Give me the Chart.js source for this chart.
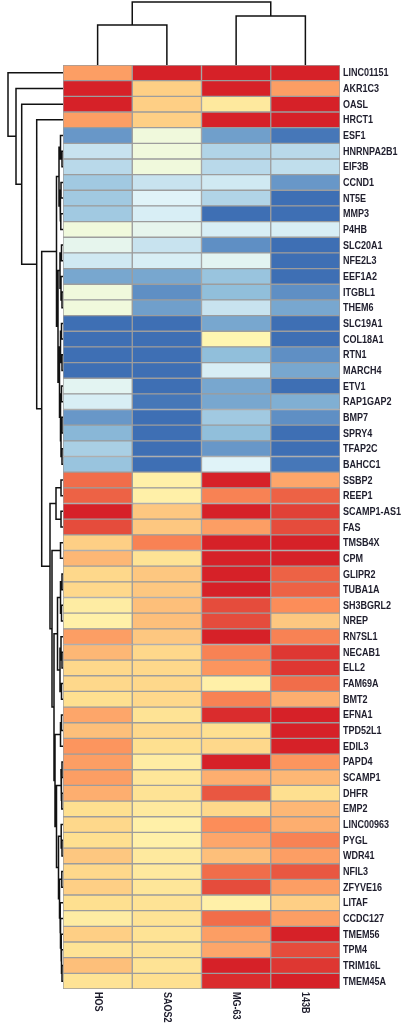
<!DOCTYPE html>
<html>
<head>
<meta charset="utf-8">
<script src="https://cdn.jsdelivr.net/npm/chart.js@4"></script>
<style>
  html, body { margin: 0; padding: 0; background: #fff; }
  #wrap { position: relative; width: 403px; height: 1032px; overflow: hidden; }
  #wrap canvas { position: absolute; left: 0; top: 0; }
</style>
</head>
<body>
<div id="wrap">
  <canvas id="heat" width="403" height="1032"></canvas>
  <canvas id="rowDendro" width="64" height="1032"></canvas>
  <canvas id="colDendro" width="403" height="66"></canvas>
</div>
<script>
const genes = ['LINC01151', 'AKR1C3', 'OASL', 'HRCT1', 'ESF1', 'HNRNPA2B1', 'EIF3B', 'CCND1', 'NT5E', 'MMP3',
  'P4HB', 'SLC20A1', 'NFE2L3', 'EEF1A2', 'ITGBL1', 'THEM6', 'SLC19A1', 'COL18A1', 'RTN1', 'MARCH4',
  'ETV1', 'RAP1GAP2', 'BMP7', 'SPRY4', 'TFAP2C', 'BAHCC1', 'SSBP2', 'REEP1', 'SCAMP1-AS1', 'FAS',
  'TMSB4X', 'CPM', 'GLIPR2', 'TUBA1A', 'SH3BGRL2', 'NREP', 'RN7SL1', 'NECAB1', 'ELL2', 'FAM69A',
  'BMT2', 'EFNA1', 'TPD52L1', 'EDIL3', 'PAPD4', 'SCAMP1', 'DHFR', 'EMP2', 'LINC00963', 'PYGL',
  'WDR41', 'NFIL3', 'ZFYVE16', 'LITAF', 'CCDC127', 'TMEM56', 'TPM4', 'TRIM16L', 'TMEM45A']
const samples = ['HOS', 'SAOS2', 'MG-63', '143B']

// scaled expression, one array per cell line (row order as above)
const hos = [1.8, 3, 3, 1.8, -2.5, -1.3, -1.5, -1.8, -1.8, -1.8, -0.5, -0.8, -1.2, -2.3, -0.5, -0.5, -3, -3, -3, -3,
  -0.9, -1.1, -2.5, -2.1, -1.7, -1.9, 2.3, 2.4, 3, 2.6, 1.2, 1.5, 1.1, 1.1, 0.6, 0.5, 1.8, 1.5, 1.1, 1.1,
  1.0, 1.7, 1.4, 1.9, 1.8, 1.8, 1.6, 1.0, 1.1, 1.0, 1.3, 1.1, 1.2, 1.0, 0.6, 1.2, 0.9, 1.4, 0.9]
const saos2 = [3, 1.2, 1.2, 1.2, -0.5, -0.5, -0.5, -1.3, -1.0, -1.1, -0.8, -1.3, -1.1, -2.3, -2.6, -2.4, -3, -3, -3, -3,
  -3, -2.9, -3, -3, -3, -3, 0.5, 0.5, 1.3, 1.3, 2.1, 0.9, 1.3, 1.3, 1.4, 1.4, 1.3, 1.1, 1.1, 1.1,
  1.1, 0.9, 1.1, 1.0, 0.6, 0.8, 0.9, 0.7, 0.5, 0.5, 0.7, 0.7, 0.8, 0.9, 0.9, 0.9, 0.9, 0.9, 1.0]
const mg63 = [3, 3, 0.7, 3, -2.4, -1.6, -1.5, -1.2, -1.6, -3, -1.1, -2.6, -0.9, -1.9, -2.0, -1.3, -2.3, 0.3, -2.0, -1.1,
  -2.3, -2.3, -1.8, -2.0, -2.5, -1.0, 3, 2.1, 3, 1.8, 3, 3, 3, 3, 2.6, 2.6, 3, 2.1, 1.9, 0.5,
  2.1, 2.9, 1.0, 1.1, 3, 1.6, 2.5, 1.1, 2.0, 1.7, 1.4, 2.3, 2.6, 0.5, 2.3, 1.8, 1.7, 3, 2.9]
const b143 = [3, 1.8, 3, 3, -2.9, -1.5, -1.4, -2.5, -3, -3, -1.1, -3, -3, -3, -2.6, -2.3, -3, -3, -2.6, -2.3,
  -3, -2.2, -2.6, -3, -3, -2.9, 1.7, 2.4, 2.7, 2.6, 3, 3, 2.4, 2.4, 2.0, 1.3, 2.1, 2.8, 2.8, 2.3,
  1.6, 3, 3, 3, 1.9, 1.5, 1.0, 1.5, 1.6, 2.1, 1.8, 2.5, 1.8, 1.2, 1.8, 3, 2.6, 2.8, 3]

// dendrograms: [left, right, merge height], leaves are row / column indexes
const blueTop = [[4, [5, 6, 1], 2.5], [[7, 8, 2], [9, 10, 2.2], 3], 4]
const blueBottom = [[[11, 12, 1.5], [13, [14, 15, 1], 2], 3],
  [[[16, 17, 1.5], [18, 19, 1], 2.5], [[20, 21, 1.5], [[22, 23, 1], [24, 25, 1], 2], 2.5], 3.5], 5]
const redTop = [[26, 27, 2], [28, 29, 2], 7]
const redMid = [[[32, 33, 1], [34, 35, 1.5], 2.5], [[36, [37, 38, 1], 2], [39, 40, 1.5], 3], 5.5]
const redLow = [[[41, 42, 1.5], 43, 2.5], [[[44, 45, 1], [46, 47, 1.2], 2],
  [[48, [49, 50, 1], 1.8], [[51, 52, 1.2], [53, [54, [55, [56, [57, 58, 1], 1.5], 2], 2.5], 3], 3.5], 4.5], 6.5], 8]
const rowTree = [0, [1, [2, [3, [[blueTop, blueBottom, 6.5],
  [redTop, [[30, 31, 2.5], [redMid, redLow, 9], 11], 13], 21.3], 26.3], 41.3], 47], 55]
const colTree = [[0, 1, 40], [2, 3, 49], 63]

const ramp = ['#3e6fb4', '#91bfdb', '#e0f3f8', '#ffffbf', '#fee090', '#fc8d59', '#d62128']
const hex = c => [1, 3, 5].map(i => parseInt(c.slice(i, i + 2), 16))
const heatColor = v => {
    const t = Math.max(-3, Math.min(3, v)) + 3
    const i = Math.min(5, Math.floor(t))
    const f = t - i
    const a = hex(ramp[i]), b = hex(ramp[i + 1])
    return 'rgb(' + a.map((c, k) => Math.round(c + (b[k] - c) * f)).join(',') + ')'
}

const treePoints = (node, out) => {
    if (typeof node === 'number')
        return { pos: node + 0.5, h: 0 }
    const a = treePoints(node[0], out)
    const b = treePoints(node[1], out)
    const h = node[2]
    out.push({ pos: a.pos, h: a.h }, { pos: a.pos, h }, { pos: b.pos, h }, { pos: b.pos, h: b.h }, { pos: NaN, h: NaN })
    return { pos: (a.pos + b.pos) / 2, h }
}

const textColor = '#1e1d2c'
const labelFont = "bold 11px 'Liberation Sans', Arial, sans-serif"
const squeeze = 0.82   // the original labels are set in a condensed face

// gene names on the right and rotated sample names below, both placed by the chart scales
const heatLabels = {
    id: 'heatLabels',
    afterDraw(chart) {
        const { ctx, chartArea, scales } = chart
        ctx.save()
        ctx.fillStyle = textColor
        ctx.font = labelFont
        ctx.textAlign = 'left'
        ctx.textBaseline = 'middle'
        genes.forEach((g, i) => {
            ctx.save()
            ctx.translate(chartArea.right + 3, scales.y.getPixelForValue(i) + 0.5)
            ctx.scale(squeeze, 1)
            ctx.fillText(g, 0, 0)
            ctx.restore()
        })
        samples.forEach((s, i) => {
            ctx.save()
            ctx.translate(scales.x.getPixelForValue(i + 0.5), chartArea.bottom + 3)
            ctx.rotate(Math.PI / 2)
            ctx.scale(squeeze, 1)
            ctx.fillText(s, 0, 0)
            ctx.restore()
        })
        ctx.restore()
    }
}

const values = [hos, saos2, mg63, b143]
new Chart(document.getElementById('heat'), {
    type: 'bar',
    data: {
        labels: genes,
        datasets: samples.map((s, ci) => ({
            label: s,
            data: genes.map(() => [ci, ci + 1]),
            backgroundColor: values[ci].map(heatColor),
            borderColor: '#9d9d9d',
            borderWidth: 1,
            borderSkipped: false,
            barPercentage: 1,
            categoryPercentage: 1,
            grouped: false
        }))
    },
    options: {
        indexAxis: 'y',
        responsive: false,
        animation: false,
        layout: { padding: { left: 63, top: 65, bottom: 43, right: 0 }, autoPadding: false },
        scales: {
            x: { type: 'linear', min: 0, max: 4, display: false },
            y: {
                position: 'right',
                grid: { display: false, drawTicks: false },
                border: { display: false },
                ticks: { display: false },
                afterFit(scale) { scale.width = 63 }
            }
        },
        plugins: { legend: { display: false }, tooltip: { enabled: false } }
    },
    plugins: [heatLabels]
})

const lineStyle = { showLine: true, borderColor: '#111', borderWidth: 1.5, pointRadius: 0, spanGaps: false, clip: false }

const rowPts = []
treePoints(rowTree, rowPts)
new Chart(document.getElementById('rowDendro'), {
    type: 'scatter',
    data: { datasets: [{ ...lineStyle, data: rowPts.map(p => ({ x: p.h, y: p.pos })) }] },
    options: {
        responsive: false,
        animation: false,
        layout: { padding: { left: 0, top: 65, bottom: 43, right: 1 }, autoPadding: false },
        scales: {
            x: { type: 'linear', min: 0, max: 63, reverse: true, display: false },
            y: { type: 'linear', min: 0, max: genes.length, reverse: true, display: false }
        },
        plugins: { legend: { display: false }, tooltip: { enabled: false } }
    }
})

const colPts = []
treePoints(colTree, colPts)
new Chart(document.getElementById('colDendro'), {
    type: 'scatter',
    data: { datasets: [{ ...lineStyle, data: colPts.map(p => ({ x: p.pos, y: p.h })) }] },
    options: {
        responsive: false,
        animation: false,
        layout: { padding: { left: 63, top: 0, bottom: 1, right: 63 }, autoPadding: false },
        scales: {
            x: { type: 'linear', min: 0, max: samples.length, display: false },
            y: { type: 'linear', min: 0, max: 65, display: false }
        },
        plugins: { legend: { display: false }, tooltip: { enabled: false } }
    }
})
</script>
</body>
</html>
